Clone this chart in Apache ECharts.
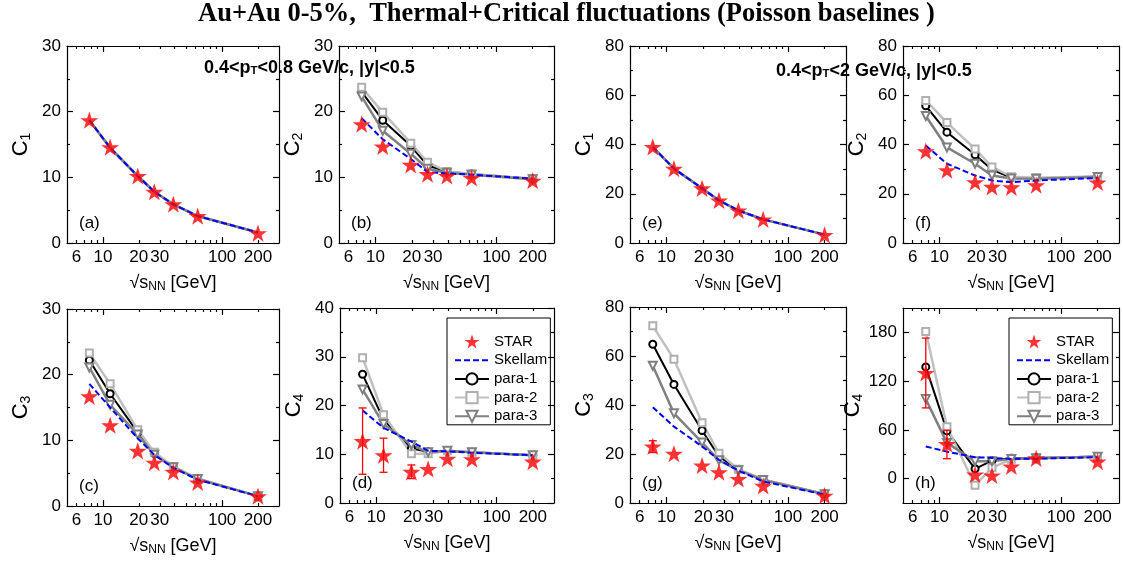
<!DOCTYPE html>
<html><head><meta charset="utf-8">
<script src="https://cdn.jsdelivr.net/npm/echarts@6/dist/echarts.min.js"></script>
<style>html,body{margin:0;padding:0;background:#fff}#c{width:1123px;height:562px}</style>
</head><body><div id="c"></div>
<script>
// ---------------- data ----------------
const energies = [7.7, 11.5, 19.6, 27, 39, 62.4, 200];

// 0.4<pT<0.8 GeV/c
const starC1_lo = [18.7, 14.6, 10.2, 7.8, 5.9, 4.1, 1.5];
const modelC1_lo = [18.7, 14.5, 10.2, 7.8, 5.9, 4.1, 1.6];
const starC2_lo = [18.1, 14.7, 11.9, 10.5, 10.2, 9.9, 9.5];
const skC2_lo = [19.0, 15.8, 12.8, 10.8, 10.6, 10.4, 9.8];
const p1C2_lo = [23.0, 18.7, 14.8, 11.8, 10.9, 10.5, 9.8];
const p2C2_lo = [23.7, 19.9, 15.2, 12.3, 10.9, 10.5, 9.8];
const p3C2_lo = [22.3, 17.1, 13.6, 11.3, 10.7, 10.4, 9.7];
const starC3_lo = [16.7, 12.3, 8.4, 6.6, 5.2, 3.6, 1.5];
const skC3_lo = [18.6, 15.0, 10.3, 7.8, 5.8, 4.0, 1.5];
const p1C3_lo = [22.2, 17.1, 11.2, 8.0, 6.0, 4.1, 1.5];
const p2C3_lo = [23.3, 18.6, 11.6, 8.2, 6.0, 4.2, 1.5];
const p3C3_lo = [21.1, 15.4, 10.9, 7.8, 5.9, 4.1, 1.5];
const starC4_lo = [12.7, 9.8, 6.4, 7.0, 9.1, 9.0, 8.5];
const errC4_lo = [[7.7, 5.9, 19.5], [11.5, 6.3, 13.3], [19.6, 5.0, 7.8]];
const skC4_lo = [19.0, 15.4, 12.6, 10.7, 10.6, 10.3, 9.8];
const p1C4_lo = [26.4, 17.1, 11.2, 10.5, 10.6, 10.4, 9.8];
const p2C4_lo = [29.8, 18.1, 10.1, 10.1, 10.7, 10.4, 9.8];
const p3C4_lo = [23.3, 16.2, 11.9, 10.4, 10.7, 10.4, 9.8];

// 0.4<pT<2 GeV/c
const starC1_hi = [39.0, 30.2, 22.2, 17.3, 13.2, 9.6, 3.3];
const modelC1_hi = [39.0, 30.2, 22.2, 17.3, 13.2, 9.6, 3.4];
const starC2_hi = [37.3, 29.6, 24.7, 22.8, 22.6, 23.5, 24.6];
const skC2_hi = [39.6, 32.2, 27.4, 25.4, 24.7, 25.4, 26.4];
const p1C2_hi = [55.7, 45.0, 35.8, 29.7, 26.6, 26.3, 27.0];
const p2C2_hi = [57.9, 48.9, 38.2, 30.9, 26.9, 26.5, 27.0];
const p3C2_hi = [51.6, 38.8, 32.2, 27.4, 26.2, 26.1, 26.8];
const starC3_hi = [23.1, 20.1, 15.3, 12.6, 9.8, 7.0, 3.0];
const errC3_hi = [[7.7, 20.6, 25.4]];
const skC3_hi = [39.1, 31.2, 23.1, 17.6, 13.2, 8.8, 3.4];
const p1C3_hi = [64.8, 48.4, 29.6, 19.0, 13.6, 9.5, 3.7];
const p2C3_hi = [72.3, 58.7, 32.8, 20.3, 13.8, 9.6, 3.7];
const p3C3_hi = [56.0, 36.6, 24.7, 17.4, 13.4, 9.4, 3.6];
const starC4_hi = [130, 42.5, 5, 4, 15, 25, 21];
const errC4_hi = [[7.7, 87, 173], [11.5, 24.5, 59.5]];
const skC4_hi = [39.6, 33.2, 26.3, 25.5, 24.3, 24.6, 26.3];
const p1C4_hi = [137.5, 58.7, 12.1, 22.2, 25.1, 25.5, 27.1];
const p2C4_hi = [181.2, 63.9, -8.1, 13.3, 23.9, 25.0, 27.0];
const p3C4_hi = [97.9, 44.0, 21.4, 21.4, 24.3, 25.0, 27.0];

// tick values / labels
const xTickLabels = [6, 10, 20, 30, 100, 200];
const xMajorTicks = [10, 100];
const xMinorTicks = [6, 7, 8, 9, 20, 30, 40, 50, 60, 70, 80, 90, 200];
const y30Major = [0, 10, 20, 30], y30Minor = [5, 15, 25];
const y40Major = [0, 10, 20, 30, 40], y40Minor = [5, 15, 25, 35];
const y80Major = [0, 20, 40, 60, 80], y80Minor = [10, 30, 50, 70];
const yHMajor = [0, 60, 120, 180], yHMinor = [30, 90, 150];
const panelLabels = ['(a)', '(b)', '(c)', '(d)', '(e)', '(f)', '(g)', '(h)'];
const legendNames = ['STAR', 'Skellam', 'para-1', 'para-2', 'para-3'];

// ---------------- layout / style ----------------
const FONT = 'Liberation Sans';
const STAR = 'path://M50,0 L61.8,35.3 L98.1,35.3 L68.7,57.1 L79.4,91.8 L50,70.5 L20.6,91.8 L31.3,57.1 L1.9,35.3 L38.2,35.3 Z';
// panel order: b, c, d, f, g, h, a, e  (so that legend picks styled series first)
const panels = [
  {key: 'b', lab: 1, g: {left: 339, top: 46, width: 215, height: 197}, y: [0, 30, y30Major, y30Minor], c: 2,
   star: starC2_lo, err: [], sk: skC2_lo, p1: p1C2_lo, p2: p2C2_lo, p3: p3C2_lo, mk: true},
  {key: 'c', lab: 2, g: {left: 67, top: 309, width: 212, height: 197}, y: [0, 30, y30Major, y30Minor], c: 3,
   star: starC3_lo, err: [], sk: skC3_lo, p1: p1C3_lo, p2: p2C3_lo, p3: p3C3_lo, mk: true},
  {key: 'd', lab: 3, g: {left: 340, top: 308, width: 214, height: 195}, y: [0, 40, y40Major, y40Minor], c: 4,
   star: starC4_lo, err: errC4_lo, sk: skC4_lo, p1: p1C4_lo, p2: p2C4_lo, p3: p3C4_lo, mk: true},
  {key: 'f', lab: 5, g: {left: 903, top: 46, width: 216, height: 197}, y: [0, 80, y80Major, y80Minor], c: 2,
   star: starC2_hi, err: [], sk: skC2_hi, p1: p1C2_hi, p2: p2C2_hi, p3: p3C2_hi, mk: true},
  {key: 'g', lab: 6, g: {left: 630, top: 307, width: 216, height: 196}, y: [0, 80, y80Major, y80Minor], c: 3,
   star: starC3_hi, err: errC3_hi, sk: skC3_hi, p1: p1C3_hi, p2: p2C3_hi, p3: p3C3_hi, mk: true},
  {key: 'h', lab: 7, g: {left: 903, top: 308, width: 216, height: 195}, y: [-30, 210, yHMajor, yHMinor], c: 4,
   star: starC4_hi, err: errC4_hi, sk: skC4_hi, p1: p1C4_hi, p2: p2C4_hi, p3: p3C4_hi, mk: true},
  {key: 'a', lab: 0, g: {left: 67, top: 46, width: 212, height: 197}, y: [0, 30, y30Major, y30Minor], c: 1,
   star: starC1_lo, err: [], sk: modelC1_lo, p1: modelC1_lo, p2: modelC1_lo, p3: modelC1_lo, mk: false},
  {key: 'e', lab: 4, g: {left: 630, top: 46, width: 216, height: 197}, y: [0, 80, y80Major, y80Minor], c: 1,
   star: starC1_hi, err: [], sk: modelC1_hi, p1: modelC1_hi, p2: modelC1_hi, p3: modelC1_hi, mk: false},
];

const AX = {color: '#000', width: 1.2};
const grid = [], xAxis = [], yAxis = [], series = [], title = [];

function pairs(arr) { return energies.map((e, i) => [e, arr[i]]); }

panels.forEach((p, gi) => {
  grid.push(Object.assign({containLabel: false}, p.g));
  const xb = {gridIndex: gi, type: 'log', logBase: 10, min: 5, max: 300, splitLine: {show: false}, silent: true};
  const tickMaj = {inside: true, length: 6, customValues: xMajorTicks, lineStyle: AX};
  const tickMin = {inside: true, length: 3, customValues: xMinorTicks, lineStyle: AX};
  xAxis.push(Object.assign({}, xb, {
    position: 'bottom', axisLine: {onZero: false, lineStyle: AX}, axisTick: tickMaj,
    axisLabel: {customValues: xTickLabels, fontSize: 17, color: '#000', fontFamily: FONT, margin: 6},
    name: '{a|√s}{b|NN}{a| [GeV]}', nameLocation: 'middle', nameGap: 30,
    nameTextStyle: {rich: {
      a: {fontSize: 18, fontFamily: FONT, color: '#000', lineHeight: 20},
      b: {fontSize: 12, fontFamily: FONT, color: '#000', lineHeight: 4, verticalAlign: 'bottom'}
    }}
  }));
  xAxis.push(Object.assign({}, xb, {position: 'bottom', axisLine: {show: false, onZero: false}, axisTick: tickMin, axisLabel: {show: false}}));
  xAxis.push(Object.assign({}, xb, {position: 'top', axisLine: {onZero: false, lineStyle: AX}, axisTick: tickMaj, axisLabel: {show: false}}));
  xAxis.push(Object.assign({}, xb, {position: 'top', axisLine: {show: false, onZero: false}, axisTick: tickMin, axisLabel: {show: false}}));

  const [ymin, ymax, ymaj, ymin2] = p.y;
  const yb = {gridIndex: gi, type: 'value', min: ymin, max: ymax, splitLine: {show: false}, silent: true};
  const yMaj = {inside: true, length: 6, customValues: ymaj, lineStyle: AX};
  const yMin = {inside: true, length: 3, customValues: ymin2, lineStyle: AX};
  yAxis.push(Object.assign({}, yb, {
    position: 'left', axisLine: {onZero: false, lineStyle: AX}, axisTick: yMaj,
    axisLabel: {customValues: ymaj, fontSize: 17, color: '#000', fontFamily: FONT, margin: 6},
    name: '{a|C}{b|' + p.c + '}', nameLocation: 'middle', nameGap: 34, nameRotate: 90,
    nameTextStyle: {rich: {
      a: {fontSize: 22, fontFamily: FONT, color: '#000', lineHeight: 24},
      b: {fontSize: 14, fontFamily: FONT, color: '#000', lineHeight: 4, verticalAlign: 'bottom'}
    }}
  }));
  yAxis.push(Object.assign({}, yb, {position: 'left', axisLine: {show: false, onZero: false}, axisTick: yMin, axisLabel: {show: false}}));
  yAxis.push(Object.assign({}, yb, {position: 'right', axisLine: {onZero: false, lineStyle: AX}, axisTick: yMaj, axisLabel: {show: false}}));
  yAxis.push(Object.assign({}, yb, {position: 'right', axisLine: {show: false, onZero: false}, axisTick: yMin, axisLabel: {show: false}}));

  const xi = gi * 4, yi = gi * 4;
  const lineBase = {type: 'line', xAxisIndex: xi, yAxisIndex: yi, animation: false, silent: true, z: 2};
  series.push(Object.assign({}, lineBase, {
    name: 'para-1', data: pairs(p.p1), lineStyle: {color: '#000', width: 2}, itemStyle: {color: '#000', borderColor: '#000', borderWidth: 1.2},
    symbol: p.mk ? 'emptyCircle' : 'none', symbolSize: 7}));
  series.push(Object.assign({}, lineBase, {
    name: 'para-2', data: pairs(p.p2), lineStyle: {color: '#C0C0C0', width: 2.5}, itemStyle: {color: '#B0B0B0', borderColor: '#B0B0B0', borderWidth: 1.2},
    symbol: p.mk ? 'emptyRect' : 'none', symbolSize: 7}));
  series.push(Object.assign({}, lineBase, {
    name: 'para-3', data: pairs(p.p3), lineStyle: {color: '#808080', width: 2.5}, itemStyle: {color: '#808080', borderColor: '#808080', borderWidth: 1.2},
    symbol: p.mk ? 'emptyTriangle' : 'none', symbolRotate: 180, symbolSize: 8}));
  series.push(Object.assign({}, lineBase, {
    name: 'Skellam', data: pairs(p.sk), symbol: 'none', z: 3,
    lineStyle: {color: '#0000FF', width: 2, type: [6, 3]}, itemStyle: {color: '#0000FF'}}));
  if (p.err.length) {
    series.push({
      type: 'custom', xAxisIndex: xi, yAxisIndex: yi, silent: true, animation: false, z: 4,
      encode: {x: 0, y: [1, 2]}, data: p.err,
      renderItem: function (params, api) {
        const x = api.value(0), lo = api.value(1), hi = api.value(2);
        const a = api.coord([x, lo]), b = api.coord([x, hi]);
        const w = 4, st = {stroke: '#FF0000', lineWidth: 1.3};
        return {type: 'group', children: [
          {type: 'line', shape: {x1: a[0], y1: a[1], x2: b[0], y2: b[1]}, style: st},
          {type: 'line', shape: {x1: a[0] - w, y1: a[1], x2: a[0] + w, y2: a[1]}, style: st},
          {type: 'line', shape: {x1: b[0] - w, y1: b[1], x2: b[0] + w, y2: b[1]}, style: st}
        ]};
      }
    });
  }
  series.push({
    type: 'scatter', name: 'STAR', xAxisIndex: xi, yAxisIndex: yi, data: pairs(p.star), animation: false, silent: true, z: 5,
    symbol: STAR, symbolKeepAspect: true, symbolSize: 18, itemStyle: {color: '#FF0000'}
  });

  title.push({text: panelLabels[p.lab], left: p.g.left + 12, top: p.g.top + p.g.height - 28, padding: 0,
    textStyle: {fontSize: 17, fontWeight: 'normal', fontFamily: FONT, color: '#000'}});
});

title.push({text: 'Au+Au 0-5%,  Thermal+Critical fluctuations (Poisson baselines )', left: 198, top: 1, padding: 0,
  textStyle: {fontSize: 26.5, fontWeight: 'bold', fontFamily: 'Liberation Serif', color: '#000'}});
const subRich = {s: {fontSize: 11.5, fontWeight: 'bold', fontFamily: FONT, color: '#000', lineHeight: 4, verticalAlign: 'bottom'}};
title.push({text: '0.4<p{s|T}<0.8 GeV/c, |y|<0.5', left: 204, top: 59, padding: 0,
  textStyle: {fontSize: 18, fontWeight: 'bold', fontFamily: FONT, color: '#000', rich: subRich}});
title.push({text: '0.4<p{s|T}<2 GeV/c, |y|<0.5', left: 776, top: 62, padding: 0,
  textStyle: {fontSize: 18, fontWeight: 'bold', fontFamily: FONT, color: '#000', rich: subRich}});

const legendData = legendNames.map(n => n === 'Skellam' ? {name: n, itemStyle: {opacity: 0}} : {name: n});
const legendBase = {orient: 'vertical', top: 318, padding: [16, 3, 1, 7], itemGap: 3.7, itemWidth: 34, itemHeight: 14,
  borderColor: '#000', borderWidth: 1, selectedMode: false, data: legendData,
  textStyle: {fontSize: 15, fontFamily: FONT, color: '#000'}};
const legend = [Object.assign({}, legendBase, {left: 447}), Object.assign({}, legendBase, {left: 1009})];

const chart = echarts.init(document.getElementById('c'), null, {renderer: 'canvas'});
chart.setOption({animation: false, backgroundColor: '#fff', grid, xAxis, yAxis, series, title, legend});
</script></body></html>
